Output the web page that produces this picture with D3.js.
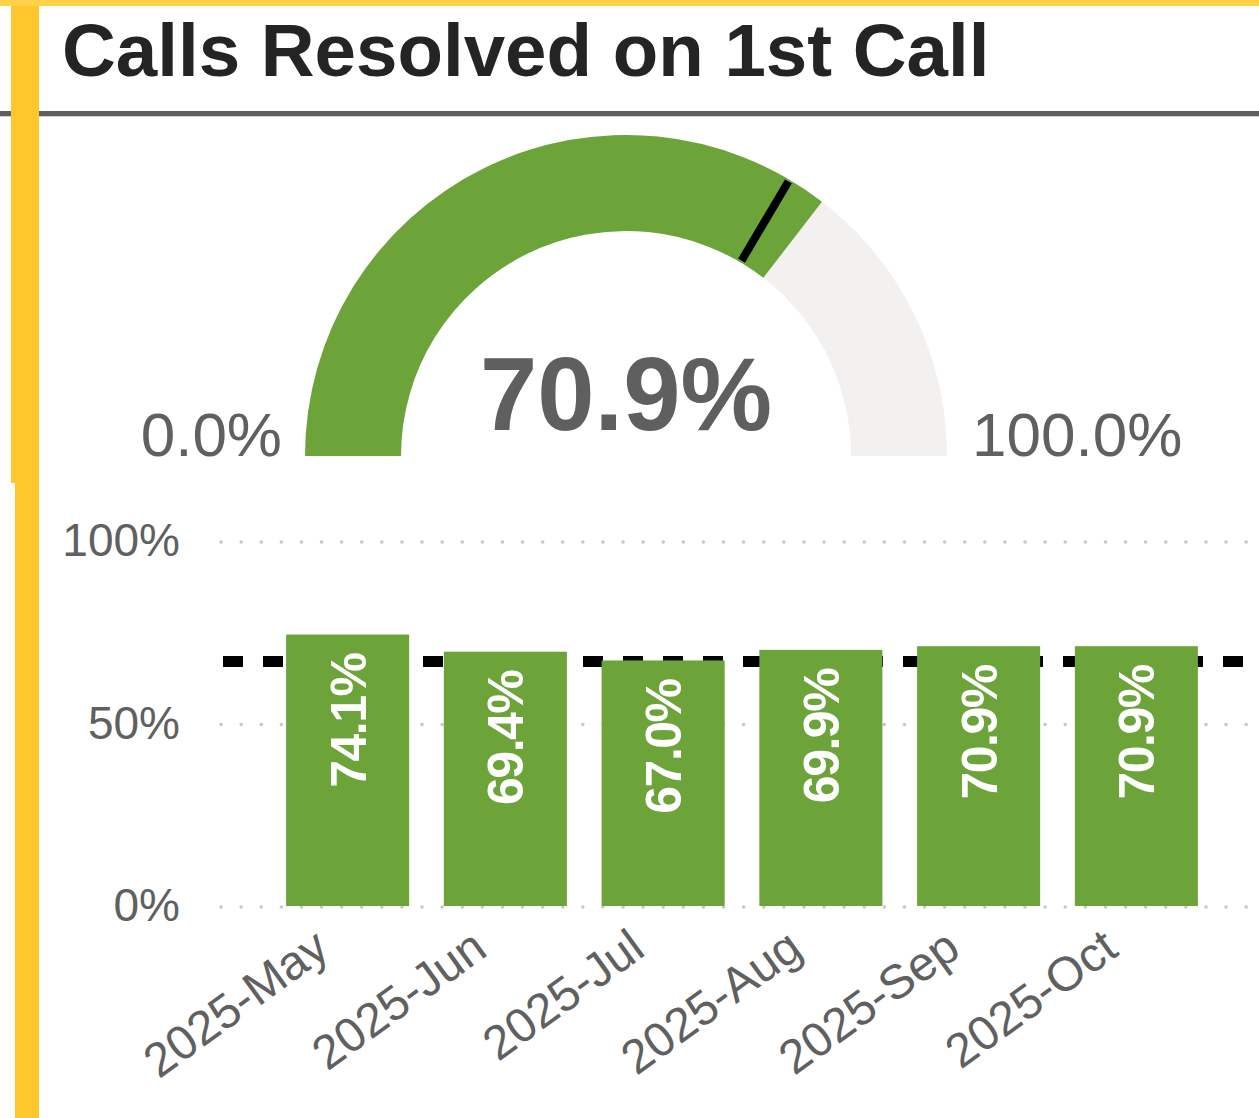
<!DOCTYPE html>
<html>
<head>
<meta charset="utf-8">
<script src="https://cdn.jsdelivr.net/npm/d3@7"></script>
<style>
  html, body { margin: 0; padding: 0; background: #ffffff; }
  svg { display: block; font-family: "Liberation Sans", Arial, sans-serif; }
</style>
</head>
<body>
<svg id="chart" width="1259" height="1118"></svg>
<script>
// ---- data ----
const title = "Calls Resolved on 1st Call";
const categories = ["2025-May", "2025-Jun", "2025-Jul", "2025-Aug", "2025-Sep", "2025-Oct"];
const values = [74.1, 69.4, 67.0, 69.9, 70.9, 70.9];
const target = [67.0];
const gaugeValue = [70.9];
const gaugeDomain = [0, 100];
const gaugeEndLabels = ["0.0%", "100.0%"];
const yTicks = [0, 50, 100];

// ---- styling ----
const GREEN = "#6ca43a";
const GREY_TRACK = "#f2f1f0";
const TEXT_GREY = "#606060";
const YELLOW = "#ffc72c";

const svg = d3.select("#chart");

// frame decorations
svg.append("rect").attr("x", 0).attr("y", 111).attr("width", 1259).attr("height", 5).attr("fill", "#5f5f5f");
svg.append("rect").attr("x", 0).attr("y", 116).attr("width", 1259).attr("height", 1).attr("fill", "#d0d0d0");
svg.append("rect").attr("x", 11).attr("y", 0).attr("width", 28).attr("height", 483).attr("fill", YELLOW);
svg.append("rect").attr("x", 15).attr("y", 483).attr("width", 24).attr("height", 635).attr("fill", YELLOW);
svg.append("rect").attr("x", 0).attr("y", 0).attr("width", 1259).attr("height", 6).attr("fill", "#ffd24a");

// title
svg.append("text")
  .attr("x", 62).attr("y", 76)
  .attr("font-size", 74.5).attr("font-weight", "bold").attr("fill", "#242424")
  .text(title);

// ---- gauge ----
const gCx = 626, gCy = 456, rOuter = 321, rInner = 225;
const gAngle = d3.scaleLinear().domain(gaugeDomain).range([-Math.PI / 2, Math.PI / 2]);
const gauge = svg.append("g").attr("transform", `translate(${gCx},${gCy})`);
const arc = d3.arc().innerRadius(rInner).outerRadius(rOuter);
gauge.append("path")
  .attr("d", arc({ startAngle: gAngle(gaugeDomain[0]), endAngle: gAngle(gaugeDomain[1]) }))
  .attr("fill", GREY_TRACK);
gauge.append("path")
  .attr("d", arc({ startAngle: gAngle(gaugeDomain[0]), endAngle: gAngle(gaugeValue[0]) }))
  .attr("fill", GREEN);
const ta = gAngle(target[0]);
gauge.append("line")
  .attr("x1", (rInner + 2) * Math.sin(ta)).attr("y1", -(rInner + 2) * Math.cos(ta))
  .attr("x2", (rOuter - 2) * Math.sin(ta)).attr("y2", -(rOuter - 2) * Math.cos(ta))
  .attr("stroke", "#000").attr("stroke-width", 8);
gauge.append("text")
  .attr("x", 0).attr("y", -26)
  .attr("text-anchor", "middle")
  .attr("font-size", 103).attr("font-weight", "bold").attr("fill", "#5f5f5f")
  .text(d3.format(".1f")(gaugeValue[0]) + "%");
gauge.append("text")
  .attr("x", -rOuter - 23).attr("y", 0)
  .attr("text-anchor", "end")
  .attr("font-size", 62).attr("fill", TEXT_GREY)
  .text(gaugeEndLabels[0]);
gauge.append("text")
  .attr("x", rOuter + 25).attr("y", 0)
  .attr("text-anchor", "start")
  .attr("font-size", 62).attr("fill", TEXT_GREY)
  .text(gaugeEndLabels[1]);

// ---- bar chart ----
const x = d3.scaleBand().domain(categories).range([223, 1261]).paddingInner(0.22).paddingOuter(0.4);
const y = d3.scaleLinear().domain([0, 100]).range([906, 541]);

const plot = svg.append("g");

// dotted gridlines
plot.selectAll("line.grid").data(yTicks).join("line")
  .attr("class", "grid")
  .attr("x1", 221).attr("x2", 1259)
  .attr("y1", d => y(d) + 1).attr("y2", d => y(d) + 1)
  .attr("stroke", "#c8c8c8").attr("stroke-width", 3.5)
  .attr("stroke-linecap", "round").attr("stroke-dasharray", "0.1 20");

// target dashed line
plot.append("line")
  .attr("x1", 223).attr("x2", 1243)
  .attr("y1", y(target[0])).attr("y2", y(target[0]))
  .attr("stroke", "#000").attr("stroke-width", 11).attr("stroke-dasharray", "20 20");

// bars
plot.selectAll("rect.bar").data(values).join("rect")
  .attr("class", "bar")
  .attr("x", (d, i) => x(categories[i]))
  .attr("y", d => y(d) - 1)
  .attr("width", x.bandwidth())
  .attr("height", d => y(0) - y(d) + 1)
  .attr("fill", GREEN);

// bar labels
plot.selectAll("text.blabel").data(values).join("text")
  .attr("class", "blabel")
  .attr("transform", (d, i) => `translate(${x(categories[i]) + x.bandwidth() / 2},${y(d) + 18}) rotate(-90)`)
  .attr("text-anchor", "end")
  .attr("dy", "0.36em")
  .attr("font-size", 50).attr("font-weight", "bold").attr("fill", "#ffffff")
  .attr("letter-spacing", "-1.5px")
  .text(d => d3.format(".1f")(d) + "%");

// y axis
const yAxis = svg.append("g").attr("transform", "translate(221,0)")
  .call(d3.axisLeft(y).tickValues(yTicks).tickFormat(d => d + "%").tickSize(0).tickPadding(41));
yAxis.select(".domain").remove();
yAxis.selectAll("text")
  .attr("font-size", 46).attr("fill", TEXT_GREY).attr("font-family", "Liberation Sans, Arial, sans-serif");

// x axis
const xAxis = svg.append("g").attr("transform", `translate(0,${y(0)})`)
  .call(d3.axisBottom(x).tickSize(0));
xAxis.select(".domain").remove();
xAxis.selectAll("text")
  .attr("y", 0).attr("dy", 0)
  .attr("transform", "translate(-16,48) rotate(-36)")
  .attr("text-anchor", "end")
  .attr("font-size", 48).attr("fill", TEXT_GREY).attr("font-family", "Liberation Sans, Arial, sans-serif");
</script>
</body>
</html>
